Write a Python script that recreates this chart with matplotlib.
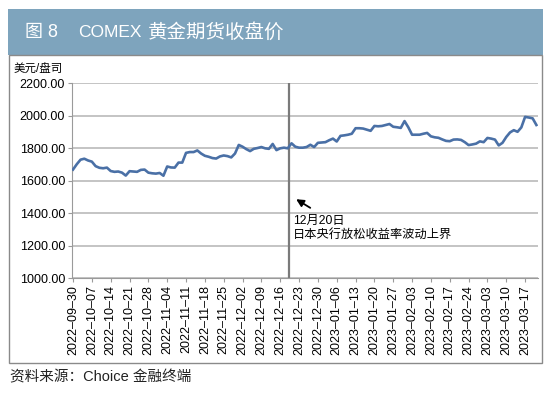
import numpy as np
import pandas as pd
from matplotlib import pyplot as plt
from matplotlib.patches import Rectangle

plt.rcParams['font.family'] = ['Liberation Sans', 'Noto Sans CJK SC', 'DejaVu Sans']

# COMEX 黄金期货收盘价 (美元/盎司), 工作日
dates = pd.bdate_range('2022-09-30', periods=124)
prices = [
    1669, 1702, 1730, 1736, 1725, 1718, 1690, 1680, 1677, 1681,
    1660, 1655, 1657, 1650, 1632, 1659, 1657, 1655, 1667, 1669,
    1650, 1646, 1644, 1648, 1631, 1688, 1682, 1681, 1712, 1712,
    1772, 1777, 1777, 1787, 1768, 1754, 1748, 1740, 1737, 1750,
    1756, 1752, 1744, 1768, 1821, 1810, 1795, 1783, 1797, 1802,
    1808, 1800, 1797, 1827, 1789, 1800, 1804, 1800, 1831, 1810,
    1804, 1804, 1808, 1822, 1808, 1834, 1836, 1838, 1850, 1860,
    1842, 1877, 1880, 1884, 1890, 1924, 1924, 1922, 1915, 1908,
    1938, 1936, 1938, 1944, 1950, 1933, 1930, 1926, 1968, 1930,
    1884, 1884, 1884, 1890, 1895, 1874, 1868, 1865, 1855, 1846,
    1844, 1854, 1855, 1852, 1838, 1820, 1824, 1829, 1843, 1838,
    1864, 1860, 1854, 1818, 1834, 1870, 1898, 1912, 1902, 1929,
    1994, 1990, 1985, 1944,
]
x = np.arange(len(prices))
tick_idx = x[::5]
tick_labels = [d.strftime('%Y-%m-%d').replace('-', '–') for d in dates[::5]]

event_x = 57.4   # 2022-12-20
event_text = '12月20日\n日本央行放松收益率波动上界'

fig = plt.figure(figsize=(5.5, 3.97), dpi=100)

# 标题栏与外框
fig.patches.append(Rectangle((0.0145, 0.8615), 0.9725, 0.1155, transform=fig.transFigure,
                             facecolor='#7ea4bd', edgecolor='none', zorder=0))
fig.patches.append(Rectangle((0.0164, 0.0856), 0.969, 0.7759, transform=fig.transFigure,
                             facecolor='none', edgecolor='#8a8a8a', lw=1.0, zorder=0))
fig.text(0.045, 0.919, '图 8', color='white', fontsize=13, va='center', ha='left')
fig.text(0.142, 0.919, 'COMEX', color='white', fontsize=12.5, va='center', ha='left')
fig.text(0.268, 0.919, '黄金期货收盘价', color='white', fontsize=14, va='center', ha='left')
fig.text(0.018, 0.050, '资料来源：Choice 金融终端', color='#222222', fontsize=10.5,
         va='center', ha='left')
fig.text(0.025, 0.823, '美元/盘司', fontsize=8.3, va='center', ha='left')

ax = fig.add_axes([0.1309, 0.2997, 0.8471, 0.49])
ax.plot(x, prices, color='#4a70a6', lw=1.9, zorder=3)
ax.axvline(event_x, color='#7a7a7a', lw=1.6, zorder=2)

ax.set_ylim(1000, 2200)
ax.set_xlim(-0.27, 123.4)
ax.set_yticks(np.arange(1000, 2201, 200))
ax.set_yticklabels([f'{v:.2f}' for v in np.arange(1000, 2201, 200)], fontsize=9)
ax.set_xticks(tick_idx)
ax.set_xticklabels(tick_labels, rotation=90, fontsize=9)
ax.grid(axis='y', color='#c4c4c4', lw=1.4)
ax.set_axisbelow(True)
for s in ['top', 'right']:
    ax.spines[s].set_visible(False)
for s in ['left', 'bottom']:
    ax.spines[s].set_color('#9a9a9a')
ax.tick_params(axis='both', color='#9a9a9a', length=3, pad=2)

ax.annotate('', xy=(58.6, 1495), xytext=(63.6, 1424),
            arrowprops=dict(arrowstyle='-|>', color='black', lw=1.3, mutation_scale=11))
ax.text(58.3, 1388, event_text, fontsize=8.8, va='top', ha='left', linespacing=1.15)

fig.savefig('out.png', dpi=100)
